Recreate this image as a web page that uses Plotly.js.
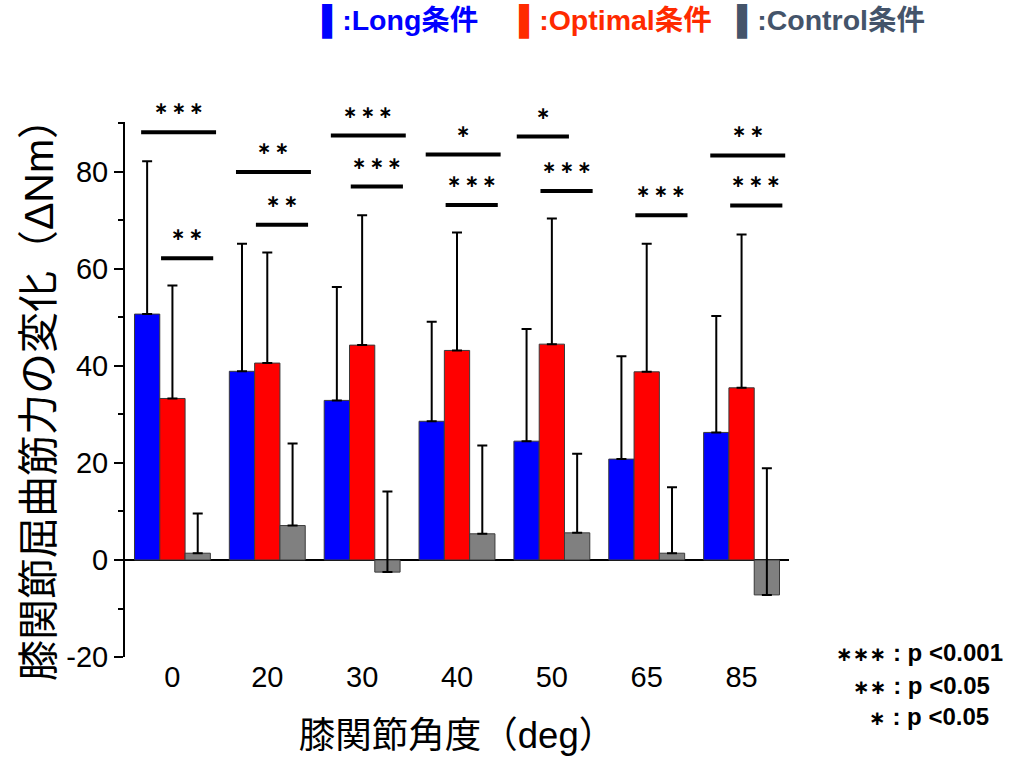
<!DOCTYPE html>
<html>
<head>
<meta charset="utf-8">
<script src="https://cdn.plot.ly/plotly-3.0.1.min.js"></script>
<style>html,body{margin:0;padding:0;background:#fff;}#chart{width:1011px;height:760px;}</style>
</head>
<body>
<div id="chart"></div>
<script>
// ---- data ----
const categories = ['0', '20', '30', '40', '50', '65', '85'];
const longMean = [50.7, 38.9, 32.9, 28.6, 24.5, 20.8, 26.3];
const longSD = [31.5, 26.3, 23.4, 20.5, 23.1, 21.2, 24.0];
const optimalMean = [33.3, 40.6, 44.3, 43.2, 44.5, 38.8, 35.5];
const optimalSD = [23.3, 22.8, 26.8, 24.3, 25.9, 26.4, 31.6];
const controlMean = [1.4, 7.1, -2.5, 5.4, 5.6, 1.4, -7.2];
const controlSD = [8.2, 16.9, 16.6, 18.2, 16.3, 13.6, 26.1];

// significance brackets: group index, start/end offset (category units), level, label
const sigGroup = [0, 0, 1, 1, 2, 2, 3, 3, 4, 4, 5, 6, 6];
const sigStart = [-0.33, -0.12, -0.33, -0.12, -0.33, -0.12, -0.33, -0.12, -0.37, -0.12, -0.12, -0.33, -0.12];
const sigEnd = [0.46, 0.43, 0.46, 0.43, 0.46, 0.43, 0.46, 0.43, 0.18, 0.43, 0.43, 0.46, 0.43];
const sigLevel = [88.2, 62.2, 80.0, 69.1, 87.5, 77.0, 83.6, 73.2, 87.3, 76.1, 71.1, 83.4, 73.1];
const sigLabel = ['***', '**', '**', '**', '***', '***', '*', '***', '*', '***', '***', '**', '***'];

const yTickVals = [-20, 0, 20, 40, 60, 80];
const yTickText = ['-20', '0', '20', '40', '60', '80'];
const legendLabels = ['Long条件', 'Optimal条件', 'Control条件'];
const pStars = ['***', '**', '*'];
const pNotes = [': p <0.001', ': p <0.05', ': p <0.05'];

// ---- layout constants ----
const W = 1011, H = 760;
const M = {l: 125, r: 222, t: 122, b: 103};
const PW = W - M.l - M.r, PH = H - M.t - M.b;
const px = x => (x - M.l) / PW;
const py = y => (H - M.b - y) / PH;
const FONT = 'Arial, "Liberation Sans", "Noto Sans CJK JP", sans-serif';
const STAR = '"DejaVu Sans", sans-serif';
const stars = (s, gap) => s.split('').map(() => '\u2217').join(gap);

function barTrace(name, y, sd, color) {
  return {
    type: 'bar', name: name, x: categories, y: y,
    marker: {color: color, line: {color: '#3a3a3a', width: 1}},
    error_y: {type: 'data', symmetric: false, array: sd, arrayminus: sd.map(() => 0),
              color: '#000', thickness: 2, width: 5},
    hoverinfo: 'x+y'
  };
}

const data = [
  barTrace('Long条件', longMean, longSD, '#0000FF'),
  barTrace('Optimal条件', optimalMean, optimalSD, '#FF0000'),
  barTrace('Control条件', controlMean, controlSD, '#808080')
];

const shapes = [];
const annotations = [];
for (let i = 0; i < sigGroup.length; i++) {
  const g = sigGroup[i];
  shapes.push({type: 'line', xref: 'x', yref: 'y', x0: g + sigStart[i], x1: g + sigEnd[i],
               y0: sigLevel[i], y1: sigLevel[i], line: {color: '#000', width: 4}});
  annotations.push({xref: 'x', yref: 'y', x: g + (sigStart[i] + sigEnd[i]) / 2, y: sigLevel[i],
                    text: '<b>' + stars(sigLabel[i], '\u2009') + '</b>', showarrow: false, yanchor: 'middle', yshift: 24,
                    font: {family: STAR, size: 17, color: '#000'}});
}

const legColors = ['#0000FF', '#FF2A00', '#44546A'];
const legX = [320, 517, 735];
for (let i = 0; i < legendLabels.length; i++) {
  annotations.push({xref: 'paper', yref: 'paper', x: px(legX[i]), y: py(22), xanchor: 'left', yanchor: 'middle',
                    showarrow: false, text: '<b>▌:' + legendLabels[i] + '</b>',
                    font: {family: FONT, size: 28.5, color: legColors[i]}});
}
const pX = [834, 851, 867];
const pY = [652, 685, 716];
for (let i = 0; i < pNotes.length; i++) {
  annotations.push({xref: 'paper', yref: 'paper', x: px(pX[i]), y: py(pY[i]), xanchor: 'left', yanchor: 'middle',
                    showarrow: false,
                    text: '<b><span style="font-family:' + STAR.replace(/"/g, "'") + ';font-size:20px">' + stars(pStars[i], '') + '</span> ' + pNotes[i] + '</b>',
                    font: {family: FONT, size: 24, color: '#000'}});
}

const layout = {
  width: W, height: H,
  margin: M,
  paper_bgcolor: '#fff', plot_bgcolor: '#fff',
  showlegend: false,
  barmode: 'group', bargap: 0.2, bargroupgap: 0,
  font: {family: FONT, color: '#000'},
  xaxis: {
    type: 'category', range: [-0.5, 6.5],
    showline: false, showgrid: false, zeroline: false, ticks: '',
    tickfont: {family: FONT, size: 29, color: '#000'},
    title: {text: '膝関節角度（deg）', font: {family: FONT, size: 36.5, color: '#000'}, standoff: 30}
  },
  yaxis: {
    range: [-20, 90.3], tickmode: 'array', tickvals: yTickVals, ticktext: yTickText,
    showline: true, linecolor: '#000', linewidth: 2,
    ticks: 'outside', ticklen: 9, tickwidth: 2, tickcolor: '#000',
    minor: {tickvals: [-10, 10, 30, 50, 70, 90], ticks: 'outside', ticklen: 5, tickwidth: 2, tickcolor: '#000'},
    showgrid: false, zeroline: true, zerolinecolor: '#000', zerolinewidth: 2,
    tickfont: {family: FONT, size: 29, color: '#000'},
    title: {text: '膝関節屈曲筋力の変化（ΔNm）\u00a0\u00a0\u00a0', font: {family: FONT, size: 41, color: '#000'}, standoff: 0}
  },
  shapes: shapes,
  annotations: annotations
};

Plotly.newPlot('chart', data, layout, {displayModeBar: false, staticPlot: true});
</script>
</body>
</html>
